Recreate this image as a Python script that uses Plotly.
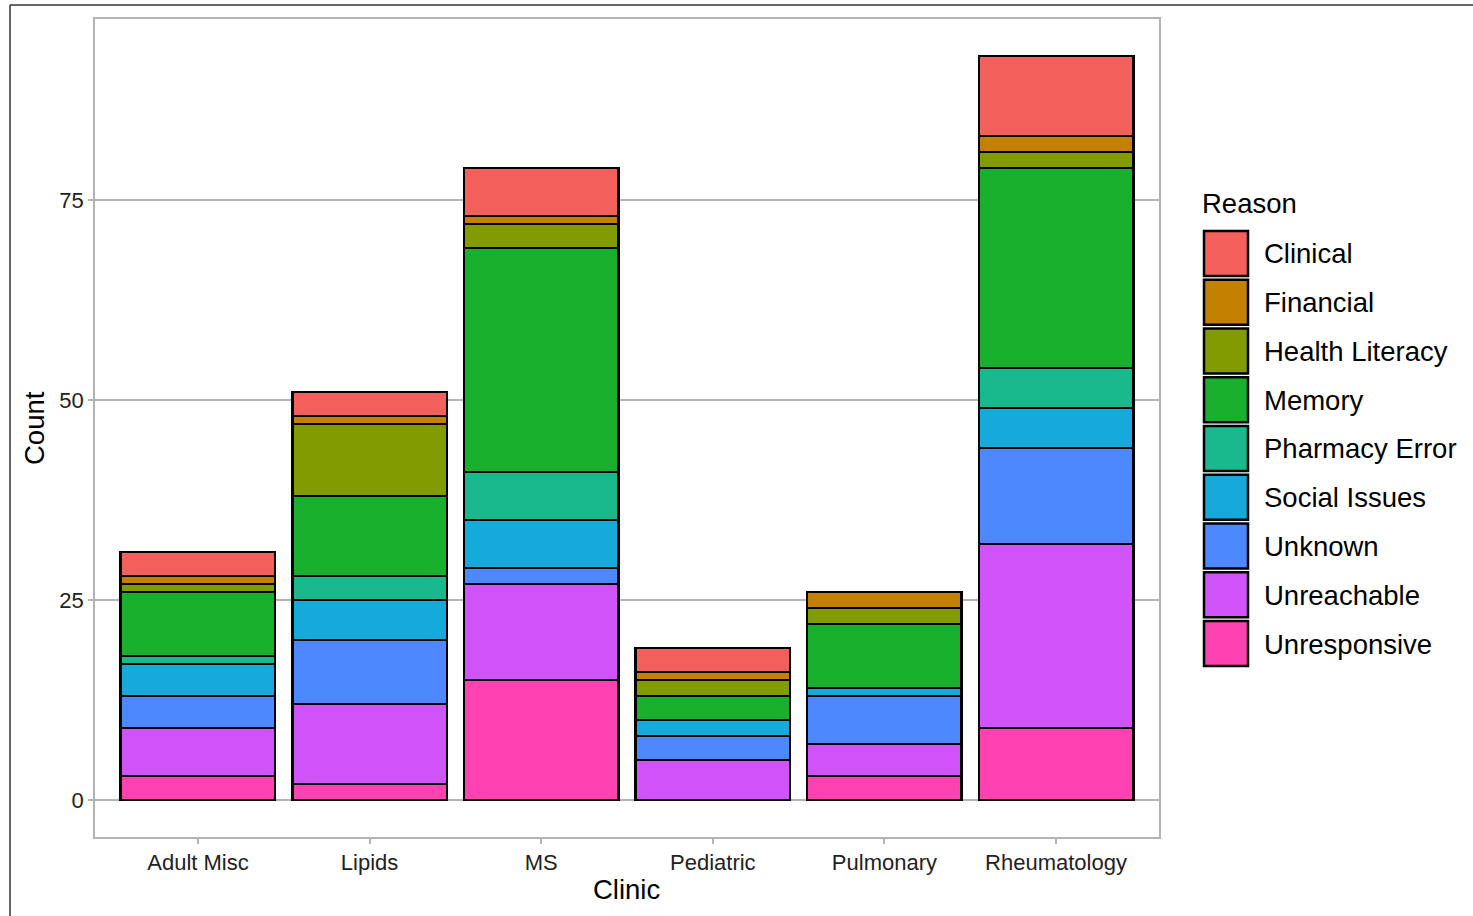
import plotly.graph_objects as go

clinics = ["Adult Misc", "Lipids", "MS", "Pediatric", "Pulmonary", "Rheumatology"]
reasons = ["Clinical", "Financial", "Health Literacy", "Memory", "Pharmacy Error",
           "Social Issues", "Unknown", "Unreachable", "Unresponsive"]

clinical       = [3, 3, 6, 3, 0, 10]
financial      = [1, 1, 1, 1, 2, 2]
health_literacy = [1, 9, 3, 2, 2, 2]
memory         = [8, 10, 28, 3, 8, 25]
pharmacy_error = [1, 3, 6, 0, 0, 5]
social_issues  = [4, 5, 6, 2, 1, 5]
unknown        = [4, 8, 2, 3, 6, 12]
unreachable    = [6, 10, 12, 5, 4, 23]
unresponsive   = [3, 2, 15, 0, 3, 9]

series = [clinical, financial, health_literacy, memory, pharmacy_error,
          social_issues, unknown, unreachable, unresponsive]
colors = ["#F4605C", "#C48000", "#829B00", "#19B02E", "#1AB88D",
          "#16AADB", "#4E88FF", "#D054FA", "#FF42B2"]

y_ticks = [0, 25, 50, 75]

# panel geometry in pixels
W, H = 1473, 916
PL, PR, PT, PB = 95, 1159, 19, 837

def px_x(px):
    return (px - PL) / (PR - PL)

def px_y(py):
    return (PB - py) / (PB - PT)

fig = go.Figure()
# bottom of stack first
for name, vals, col in reversed(list(zip(reasons, series, colors))):
    fig.add_trace(go.Bar(
        x=clinics,
        y=[v if v != 0 else None for v in vals],
        name=name,
        width=0.9,
        marker=dict(color=col, line=dict(color="black", width=2.6)),
        showlegend=False,
    ))

totals = [sum(s[i] for s in series) for i in range(len(clinics))]
ymax = max(totals)
pad = ymax * 0.05

font_family = "Liberation Sans, Arial, Helvetica, sans-serif"

fig.update_layout(
    width=W, height=H,
    barmode="stack",
    plot_bgcolor="white",
    paper_bgcolor="white",
    margin=dict(l=PL, r=W - PR, t=PT, b=H - PB),
    font=dict(family=font_family, color="#222222"),
    xaxis=dict(
        range=[-0.6, len(clinics) - 0.4],
        showgrid=False,
        showline=True, mirror=True, linecolor="#B3B3B3", linewidth=1.5,
        ticks="outside", ticklen=5, tickwidth=1.5, tickcolor="#B3B3B3",
        tickfont=dict(size=22, color="#222222"),
        zeroline=False,
    ),
    yaxis=dict(
        range=[-pad, ymax + pad],
        tickvals=y_ticks,
        ticktext=[str(t) for t in y_ticks],
        showgrid=True, gridcolor="#B3B3B3", gridwidth=1.5,
        showline=True, mirror=True, linecolor="#B3B3B3", linewidth=1.5,
        ticks="outside", ticklen=5, tickwidth=1.5, tickcolor="#B3B3B3",
        tickfont=dict(size=22, color="#222222"),
        zeroline=False,
    ),
)

annotations = []
shapes = []

# axis titles
annotations.append(dict(text="Clinic", xref="paper", yref="paper",
                        x=px_x(626), y=px_y(889), xanchor="center", yanchor="middle",
                        showarrow=False, font=dict(size=27.5, color="black")))
annotations.append(dict(text="Count", xref="paper", yref="paper",
                        x=px_x(34), y=px_y(428), xanchor="center", yanchor="middle",
                        textangle=-90, showarrow=False, font=dict(size=27.5, color="black")))

# legend (manual, ggplot-style large keys)
annotations.append(dict(text="Reason", xref="paper", yref="paper",
                        x=px_x(1200), y=px_y(204), xanchor="left", yanchor="middle",
                        showarrow=False, font=dict(size=27.5, color="black")))
step = 48.75
for i, (name, col) in enumerate(zip(reasons, colors)):
    top = 231 + i * step
    shapes.append(dict(type="rect", xref="paper", yref="paper",
                       x0=px_x(1204), x1=px_x(1248),
                       y0=px_y(top), y1=px_y(top + 45),
                       fillcolor=col, line=dict(color="black", width=2.5)))
    annotations.append(dict(text=name, xref="paper", yref="paper",
                            x=px_x(1262), y=px_y(top + 23), xanchor="left", yanchor="middle",
                            showarrow=False, font=dict(size=27.5, color="black")))

# outer frame lines seen in the screenshot
shapes.append(dict(type="line", xref="paper", yref="paper",
                   x0=px_x(10), x1=px_x(W), y0=px_y(5), y1=px_y(5),
                   line=dict(color="#333333", width=1.5)))
shapes.append(dict(type="line", xref="paper", yref="paper",
                   x0=px_x(10), x1=px_x(10), y0=px_y(5), y1=px_y(H),
                   line=dict(color="#333333", width=1.5)))

fig.update_layout(annotations=annotations, shapes=shapes)

fig.write_html("out.html",
               config={"displayModeBar": False},
               post_script="document.body.style.margin='0';document.body.style.overflow='hidden';")
